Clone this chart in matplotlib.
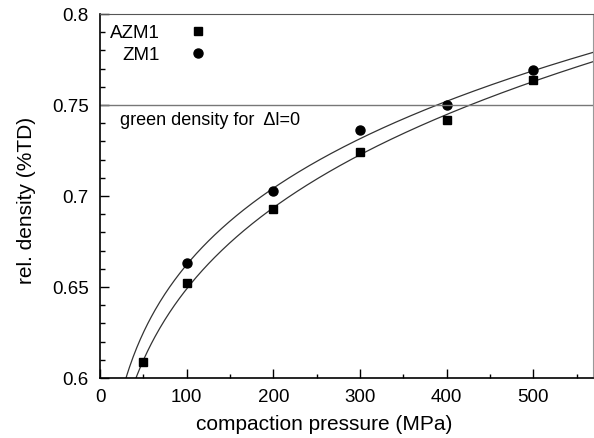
import numpy as np
import matplotlib
matplotlib.use("Agg")
import matplotlib.pyplot as plt
from matplotlib.ticker import MultipleLocator

plt.rcParams['font.family'] = ['Liberation Sans', 'DejaVu Sans']

# measured points
pressure_azm1 = [50, 100, 200, 300, 400, 500]
density_azm1 = [0.609, 0.652, 0.693, 0.724, 0.742, 0.764]
pressure_zm1 = [100, 200, 300, 400, 500]
density_zm1 = [0.663, 0.703, 0.736, 0.750, 0.769]

# fit 1/D = c - k*ln(P), coefficients
fit_azm1 = (2.1995, 0.1430)
fit_zm1 = (2.1092, 0.1301)

green_density = 0.75


def fit_curve(p, coef):
    c, k = coef
    return 1.0 / (c - k * np.log(p))


fig = plt.figure(figsize=(5.94, 4.39), dpi=100)
ax = fig.add_axes([100 / 594, 60 / 439, 493 / 594, 364 / 439])

p = np.linspace(20, 580, 400)
ax.plot(p, fit_curve(p, fit_zm1), color='#333333', lw=0.9)
ax.plot(p, fit_curve(p, fit_azm1), color='#333333', lw=0.9)

ax.plot(pressure_azm1, density_azm1, 's', color='black', ms=6, label='AZM1')
ax.plot(pressure_zm1, density_zm1, 'o', color='black', ms=6.5, label='ZM1')

ax.axhline(green_density, color='#777777', lw=1)
ax.text(23, 0.7422, 'green density for  \u0394l=0', fontsize=13, va='center')

ax.set_xlim(0, 569)
ax.set_ylim(0.6, 0.8)
ax.xaxis.set_major_locator(MultipleLocator(100))
ax.xaxis.set_minor_locator(MultipleLocator(50))
ax.yaxis.set_major_locator(MultipleLocator(0.05))
ax.yaxis.set_minor_locator(MultipleLocator(0.01))
ax.set_xticks([0, 100, 200, 300, 400, 500])
ax.set_xticklabels(['0', '100', '200', '300', '400', '500'])
ax.set_yticks([0.6, 0.65, 0.7, 0.75, 0.8])
ax.set_yticklabels(['0.6', '0.65', '0.7', '0.75', '0.8'])

ax.tick_params(which='both', direction='in', top=False, right=False,
               labelsize=13.5, color='black', width=1)
ax.tick_params(axis='x', which='major', length=6.5, pad=7)
ax.tick_params(axis='x', which='minor', length=3.2)
ax.tick_params(axis='y', which='major', length=6.5, pad=8)
ax.tick_params(axis='y', which='minor', length=3.5)

for side in ['left', 'bottom']:
    ax.spines[side].set_color('black')
    ax.spines[side].set_linewidth(1.2)
ax.spines['top'].set_color('#555555')
ax.spines['right'].set_color('#999999')

ax.set_xlabel('compaction pressure (MPa)', fontsize=15)
ax.set_ylabel('rel. density (%TD)', fontsize=15)
ax.xaxis.set_label_coords(0.454, -0.1)
ax.yaxis.set_label_coords(-0.13, 0.49)

ax.legend(loc='upper left', frameon=False, markerfirst=False,
          fontsize=13.5, handletextpad=1.0, handlelength=2.0,
          labelspacing=0.25, borderaxespad=0.35, borderpad=0.2)

fig.savefig('out.png', dpi=100)
